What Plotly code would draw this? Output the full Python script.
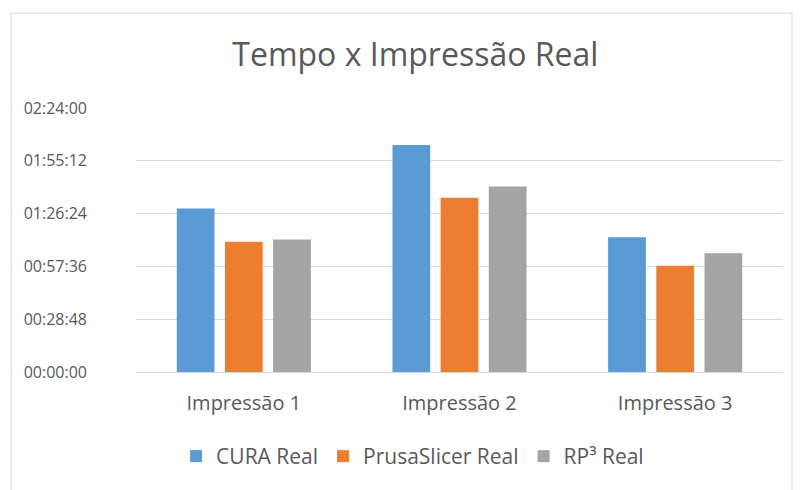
import plotly.graph_objects as go

# categorias e tempos (em segundos)
categorias = ["Impressão 1", "Impressão 2", "Impressão 3"]
series = ["CURA Real", "PrusaSlicer Real", "RP³ Real"]
cura_real = [5353, 7427, 4413]
prusa_real = [4262, 5703, 3476]
rp3_real = [4337, 6074, 3889]

tick_vals = [0, 1728, 3456, 5184, 6912, 8640]
tick_text = ["00:00:00", "00:28:48", "00:57:36", "01:26:24", "01:55:12", "02:24:00"]

cores = ["#5B9BD5", "#ED7D31", "#A5A5A5"]
fonte = "'Open Sans', 'Noto Sans', sans-serif"
cinza_txt = "#595959"

fig = go.Figure()
for nome, valores, cor in zip(series, [cura_real, prusa_real, rp3_real], cores):
    fig.add_trace(go.Bar(
        x=categorias,
        y=valores,
        name=nome,
        marker=dict(color=cor, line=dict(width=0)),
        hoverinfo="skip",
    ))

# a página tem 8px de margem no body, por isso a figura é 8px menor
fig.update_layout(
    width=794,
    height=482,
    margin=dict(l=128, r=19, t=100, b=117.5, autoexpand=False),
    paper_bgcolor="white",
    plot_bgcolor="white",
    barmode="group",
    bargap=0.33,
    bargroupgap=0.217,
    font=dict(family=fonte, color=cinza_txt, size=17),
    title=dict(
        text="Tempo x Impressão Real",
        x=0.513,
        xanchor="center",
        y=0.902,
        yanchor="middle",
        font=dict(family=fonte, size=32, color=cinza_txt),
    ),
    legend=dict(
        orientation="h",
        x=0.062,
        xanchor="left",
        y=-0.32,
        yanchor="middle",
        font=dict(size=21, color=cinza_txt),
        itemwidth=30,
        traceorder="normal",
    ),
    yaxis=dict(
        range=[0, 8640],
        tickvals=tick_vals,
        ticktext=tick_text,
        showgrid=True,
        gridcolor="#D9D9D9",
        gridwidth=1,
        zeroline=False,
        showline=False,
        ticks="",
        ticklabelstandoff=48,
        tickfont=dict(size=16, color=cinza_txt),
        fixedrange=True,
    ),
    xaxis=dict(
        showline=True,
        linecolor="#D9D9D9",
        linewidth=1,
        ticks="",
        showgrid=False,
        tickfont=dict(size=20, color=cinza_txt),
        ticklabelstandoff=13,
        fixedrange=True,
    ),
    shapes=[dict(
        type="rect",
        xref="paper", yref="paper",
        x0=-0.193, x1=1.014,
        y0=-0.47, y1=1.359,
        line=dict(color="#D9D9D9", width=1),
        fillcolor="rgba(0,0,0,0)",
        layer="below",
    )],
)

fig.write_html("out.html")
